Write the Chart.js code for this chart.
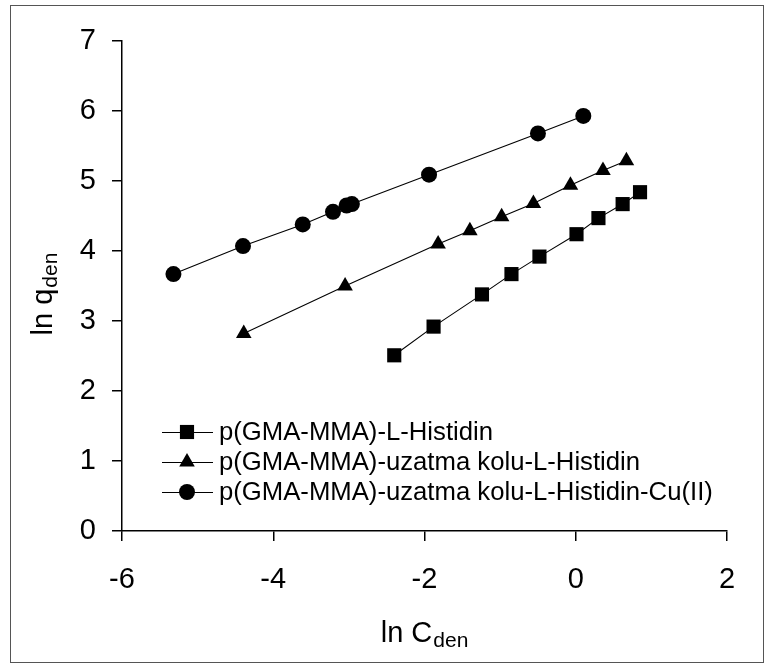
<!DOCTYPE html>
<html>
<head>
<meta charset="utf-8">
<script src="https://cdn.jsdelivr.net/npm/chart.js@4/dist/chart.umd.min.js"></script>
<style>
  html, body { margin: 0; padding: 0; background: #fff; }
  #wrap { width: 772px; height: 668px; position: relative; }
</style>
</head>
<body>
<div id="wrap"><canvas id="c" width="772" height="668"></canvas></div>
<script>
const seriesLabels = [
  'p(GMA-MMA)-L-Histidin',
  'p(GMA-MMA)-uzatma kolu-L-Histidin',
  'p(GMA-MMA)-uzatma kolu-L-Histidin-Cu(II)'
];
const histX = [-2.40, -1.88, -1.24, -0.85, -0.48, 0.01, 0.30, 0.62, 0.85];
const histY = [2.51, 2.92, 3.38, 3.67, 3.92, 4.24, 4.47, 4.67, 4.84];
const uzatmaX = [-4.39, -3.05, -1.82, -1.40, -0.98, -0.56, -0.07, 0.36, 0.67];
const uzatmaY = [2.82, 3.50, 4.10, 4.29, 4.49, 4.68, 4.94, 5.15, 5.29];
const cuX = [-5.32, -4.40, -3.61, -3.21, -3.03, -2.96, -1.94, -0.50, 0.10];
const cuY = [3.67, 4.07, 4.38, 4.56, 4.65, 4.67, 5.09, 5.68, 5.93];
const xTicks = [-6, -4, -2, 0, 2];
const yTicks = [0, 1, 2, 3, 4, 5, 6, 7];
const xTitle = ['ln C', 'den'];
const yTitle = ['ln q', 'den'];

const FONT = '"Liberation Sans", Arial, sans-serif';
const pointStyles = ['rect', 'triangle', 'circle'];
const pointRadii = [10, 9, 8];

function pts(xs, ys) { return xs.map((x, i) => ({ x: x, y: ys[i] })); }

const datasets = [pts(histX, histY), pts(uzatmaX, uzatmaY), pts(cuX, cuY)].map((d, i) => ({
  label: seriesLabels[i],
  data: d,
  showLine: true,
  borderColor: '#000',
  borderWidth: 1.1,
  backgroundColor: '#000',
  pointStyle: pointStyles[i],
  pointRadius: pointRadii[i],
  pointHoverRadius: pointRadii[i],
  pointBackgroundColor: '#000',
  pointBorderColor: '#000',
  pointBorderWidth: 0
}));

function drawMarker(ctx, style, x, y, r) {
  ctx.beginPath();
  if (style === 'rect') {
    const s = Math.SQRT1_2 * r;
    ctx.rect(x - s, y - s, 2 * s, 2 * s);
  } else if (style === 'triangle') {
    ctx.moveTo(x, y - r);
    ctx.lineTo(x + r * Math.sin(Math.PI / 3), y + r / 2);
    ctx.lineTo(x - r * Math.sin(Math.PI / 3), y + r / 2);
    ctx.closePath();
  } else {
    ctx.arc(x, y, r, 0, Math.PI * 2);
  }
  ctx.fill();
}

const decor = {
  id: 'decor',
  beforeDraw(chart) {
    const ctx = chart.ctx;
    ctx.save();
    ctx.fillStyle = '#fff';
    ctx.fillRect(0, 0, chart.width, chart.height);
    ctx.strokeStyle = '#555';
    ctx.lineWidth = 1;
    ctx.strokeRect(10.5, 5.5, 753, 657);
    ctx.restore();
  },
  afterDraw(chart) {
    const ctx = chart.ctx;
    const ca = chart.chartArea;
    ctx.save();
    ctx.fillStyle = '#000';
    ctx.textBaseline = 'alphabetic';
    // X axis title with subscript
    ctx.font = '29px ' + FONT;
    const w1 = ctx.measureText(xTitle[0]).width;
    ctx.font = '21px ' + FONT;
    const w2 = ctx.measureText(xTitle[1]).width;
    const cx = (ca.left + ca.right) / 2;
    let sx = cx - (w1 + w2 + 1) / 2;
    ctx.textAlign = 'left';
    ctx.font = '29px ' + FONT;
    ctx.fillText(xTitle[0], sx, 642);
    ctx.font = '21px ' + FONT;
    ctx.fillText(xTitle[1], sx + w1 + 1, 647);
    // Y axis title rotated
    ctx.save();
    ctx.translate(52, 294);
    ctx.rotate(-Math.PI / 2);
    ctx.font = '29px ' + FONT;
    const v1 = ctx.measureText(yTitle[0]).width;
    ctx.font = '21px ' + FONT;
    const v2 = ctx.measureText(yTitle[1]).width;
    let sy = -(v1 + v2 + 1) / 2;
    ctx.font = '29px ' + FONT;
    ctx.fillText(yTitle[0], sy, 0);
    ctx.font = '21px ' + FONT;
    ctx.fillText(yTitle[1], sy + v1 + 1, 5);
    ctx.restore();
    // Legend
    const rows = [432, 462, 492];
    ctx.font = '25.7px ' + FONT;
    ctx.textBaseline = 'middle';
    ctx.textAlign = 'left';
    chart.data.datasets.forEach((ds, i) => {
      const y = rows[i];
      ctx.strokeStyle = '#000';
      ctx.lineWidth = 1.1;
      ctx.beginPath();
      ctx.moveTo(162, y + 0.5);
      ctx.lineTo(213, y + 0.5);
      ctx.stroke();
      drawMarker(ctx, ds.pointStyle, 187, y, ds.pointRadius);
      ctx.fillText(ds.label, 219, y + 1);
    });
    ctx.restore();
  }
};

new Chart(document.getElementById('c'), {
  type: 'scatter',
  data: { datasets: datasets },
  options: {
    responsive: false,
    animation: false,
    events: [],
    layout: { padding: { left: 0, top: 41, right: 45, bottom: 0 } },
    plugins: { legend: { display: false }, tooltip: { enabled: false } },
    scales: {
      x: {
        type: 'linear',
        min: -6, max: 2,
        afterFit(scale) { scale.height = 137; },
        afterBuildTicks(scale) { scale.ticks = xTicks.map(v => ({ value: v })); },
        border: { display: true, color: '#000', width: 1.5 },
        grid: { display: true, drawOnChartArea: false, drawTicks: true, tickLength: 10, color: '#000', lineWidth: 1.5 },
        ticks: { color: '#000', font: { family: FONT, size: 29 }, padding: 22, maxRotation: 0 },
        title: { display: false }
      },
      y: {
        type: 'linear',
        min: 0, max: 7,
        afterFit(scale) { scale.width = 122; },
        afterBuildTicks(scale) { scale.ticks = yTicks.map(v => ({ value: v })); },
        border: { display: true, color: '#000', width: 1.5 },
        grid: { display: true, drawOnChartArea: false, drawTicks: true, tickLength: 10, color: '#000', lineWidth: 1.5 },
        ticks: { color: '#000', font: { family: FONT, size: 29 }, padding: 16 },
        title: { display: false }
      }
    }
  },
  plugins: [decor]
});
</script>
</body>
</html>
